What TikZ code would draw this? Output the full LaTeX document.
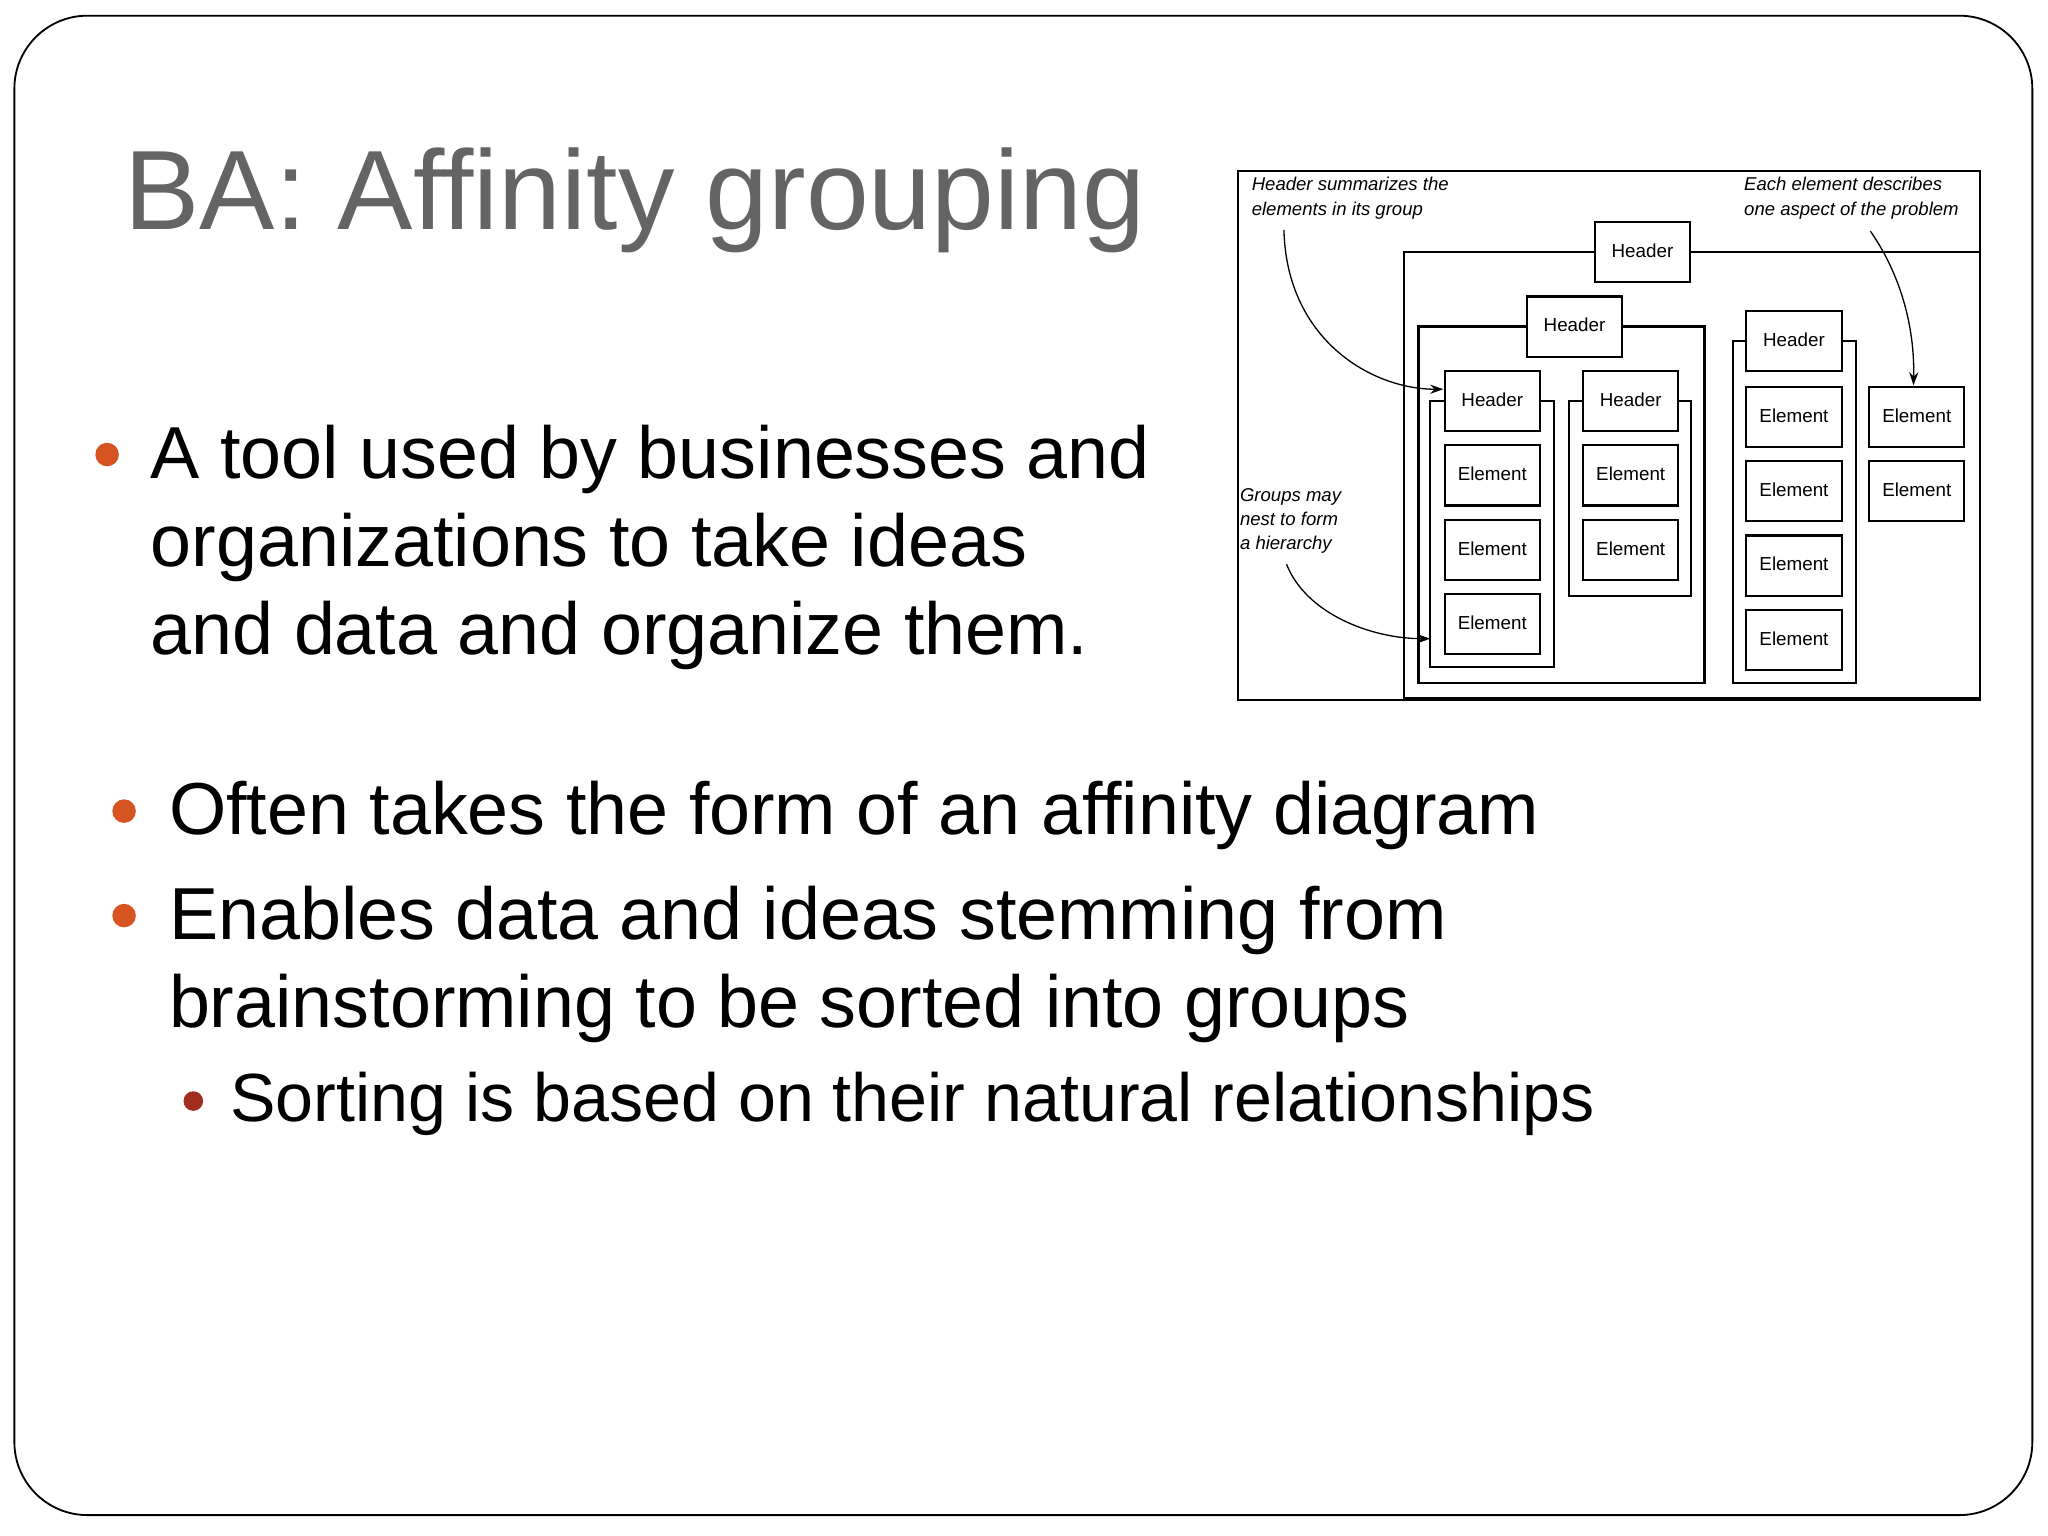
\documentclass[tikz,border=0pt]{standalone}
\usepackage{fontspec}
\setmainfont{Liberation Sans}
\usetikzlibrary{arrows.meta}
\definecolor{bul}{RGB}{214,84,34}
\definecolor{subbul}{RGB}{160,45,30}
\definecolor{titlegray}{RGB}{100,100,100}
\tikzset{
  bx/.style={draw,line width=0.8pt},
  lbl/.style={font=\fontsize{7.2}{9}\selectfont,inner sep=0pt},
  note/.style={font=\fontsize{7.1}{9}\selectfont\itshape,inner sep=0pt,anchor=base west},
  ln/.style={font=\fontsize{28.2}{34}\selectfont,inner sep=0pt,anchor=base west},
  dot/.style={circle,fill=bul,inner sep=0pt,minimum size=9pt},
  arr/.style={line width=0.5pt,-{Stealth[length=5pt,width=3.5pt]}}
}
\begin{document}
\begin{tikzpicture}[x=0.5pt,y=-0.5pt]
\useasboundingbox (0,0) rectangle (1568,1176);
\draw[line width=0.7pt,rounded corners=28pt] (11,12) rectangle (1556,1160);
\node[font=\fontsize{43.2}{50}\selectfont,text=titlegray,inner sep=0pt,anchor=base west] (title) at (95,176) {BA: Affinity grouping};
% bullets
\node[dot] (b1) at (82,348) {};
\node[ln] (l1) at (115,366) {A tool used by businesses and};
\node[ln] (l2) at (115,434) {organizations to take ideas};
\node[ln] (l3) at (115,501) {and data and organize them.};
\node[dot] (b2) at (95,621) {};
\node[ln] (l4) at (129,639) {Often takes the form of an affinity diagram};
\node[dot] (b3) at (95,701) {};
\node[ln] (l5) at (129,719) {Enables data and ideas stemming from};
\node[ln] (l6) at (129,787) {brainstorming to be sorted into groups};
\node[circle,fill=subbul,inner sep=0pt,minimum size=7.5pt] (b4) at (148,843) {};
\node[ln,font=\fontsize{26.1}{32}\selectfont] (l7) at (176,859) {Sorting is based on their natural relationships};
% diagram
\draw[line width=0.8pt] (948,131) rectangle (1516,536);
\draw[line width=0.8pt] (1075,536) -- (1075,193) -- (1516,193);
\draw[line width=1.6pt] (1075,535) -- (1516,535);
\draw[bx] (1086,250) rectangle (1305,523);
\draw[bx] (1095,307) rectangle (1190,511);
\draw[bx] (1201,307) rectangle (1295,456);
\draw[bx] (1327,261) rectangle (1421,523);
\foreach \n/\x/\y/\t in {h0/1221/170/Header,h1/1169/227/Header,h2/1106/284/Header,h3/1212/284/Header,h4/1337/238/Header,
  e1/1106/341/Element,e2/1106/398/Element,e3/1106/455/Element,e4/1212/341/Element,e5/1212/398/Element,
  e6/1337/296/Element,e7/1337/353/Element,e8/1337/410/Element,e9/1337/467/Element,e10/1431/296/Element,e11/1431/353/Element}{
  \draw[bx,fill=white] (\x,\y) rectangle ++(73,46);
  \node[lbl] (\n) at (\x+36.5,\y+22) {\t};
}
\node[note] (n1) at (958,146) {Header summarizes the};
\node[note] (n1b) at (958,165) {elements in its group};
\node[note] (n2) at (1335,146) {Each element describes};
\node[note] (n2b) at (1335,165) {one aspect of the problem};
\node[note] (n3) at (949,384) {Groups may};
\node[note] (n3b) at (949,402) {nest to form};
\node[note] (n3c) at (949,421) {a hierarchy};
\coordinate (a1s) at (983,176);
\coordinate (a1e) at (1105,298);
\coordinate (a2s) at (1432,177);
\coordinate (a2e) at (1465,295);
\coordinate (a3s) at (985,432);
\coordinate (a3e) at (1095,489);
\draw[arr] (a1s) .. controls (985,260) and (1050,298) .. (a1e);
\draw[arr] (a2s) .. controls (1455,210) and (1466,250) .. (a2e);
\draw[arr] (a3s) .. controls (1000,470) and (1050,489) .. (a3e);
\end{tikzpicture}
\end{document}
